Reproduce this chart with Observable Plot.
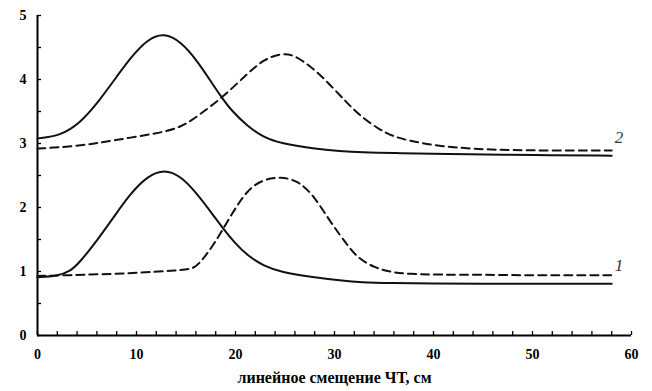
<!DOCTYPE html>
<html><head><meta charset="utf-8">
<script src="https://cdn.jsdelivr.net/npm/d3@7"></script>
<script src="https://cdn.jsdelivr.net/npm/@observablehq/plot@0.6"></script>
<style>
body{margin:0;background:#fff;}
svg{display:block;}
</style>
</head><body><div id="chart"></div>
<script>
const xTitle = "линейное смещение ЧТ, см";
const xTickLabels = [0, 10, 20, 30, 40, 50, 60];
const xMinorTicks = d3.range(0, 61, 2);
const yTickLabels = [0, 1, 2, 3, 4, 5];
const yMinorTicks = d3.range(0, 5.01, 0.5);

// curve 1 (lower pair)
const c1SolidX = [0, 2, 3.3, 4.3, 6, 7.7, 9.4, 11.1, 12.8, 14.5, 16.2, 17.8, 18.7, 19.9, 21.2, 22.8, 24.6, 27.9, 30.6, 32.7, 35.7, 40, 45, 50, 55, 58];
const c1SolidY = [0.91, 0.93, 1.0, 1.15, 1.48, 1.85, 2.22, 2.49, 2.6, 2.49, 2.2, 1.87, 1.68, 1.45, 1.25, 1.09, 0.99, 0.91, 0.86, 0.83, 0.82, 0.81, 0.81, 0.81, 0.81, 0.81];
const c1DashX = [0, 2.7, 9.4, 14.5, 15.5, 16.2, 17.8, 19.5, 21.2, 22.8, 24.6, 26.3, 27.9, 29.6, 31.3, 32.3, 34, 35.7, 37.5, 40.7, 45, 50, 55, 58];
const c1DashY = [0.93, 0.94, 0.97, 1.02, 1.04, 1.09, 1.41, 1.87, 2.28, 2.44, 2.48, 2.42, 2.19, 1.77, 1.41, 1.22, 1.06, 0.99, 0.96, 0.95, 0.95, 0.94, 0.94, 0.94];
// curve 2 (upper pair)
const c2SolidX = [0, 2.3, 4.3, 6, 7.7, 9.4, 11.1, 12.8, 14.5, 16.2, 17.8, 18.7, 19.5, 21.2, 22.8, 24.6, 27.9, 30.6, 32.7, 36, 44, 50, 58];
const c2SolidY = [3.08, 3.12, 3.32, 3.62, 3.98, 4.34, 4.63, 4.73, 4.59, 4.28, 3.90, 3.70, 3.53, 3.27, 3.10, 3.0, 2.92, 2.88, 2.86, 2.85, 2.83, 2.82, 2.81];
const c2DashX = [0, 4.3, 7.7, 12.2, 14.5, 16.2, 18.7, 21.2, 22.8, 24.6, 25.9, 27.9, 29.6, 31.3, 32.6, 34.6, 36, 37.3, 40.7, 45.8, 50.8, 58];
const c2DashY = [2.92, 2.96, 3.05, 3.16, 3.25, 3.43, 3.72, 4.09, 4.31, 4.41, 4.39, 4.17, 3.91, 3.63, 3.43, 3.21, 3.11, 3.05, 2.95, 2.9, 2.89, 2.89];

const curveLabels = ["1", "2"];
const curveLabelX = [58.3, 58.3];
const curveLabelY = [1.09, 3.09];

const toRows = (xs, ys, series) => xs.map((x, i) => ({x, y: ys[i], series}));
const solid = [...toRows(c1SolidX, c1SolidY, "1"), ...toRows(c2SolidX, c2SolidY, "2")];
const dashed = [...toRows(c1DashX, c1DashY, "1"), ...toRows(c2DashX, c2DashY, "2")];
const labels = curveLabels.map((t, i) => ({t, x: curveLabelX[i], y: curveLabelY[i]}));

const serif = "Liberation Serif, DejaVu Serif, serif";

const chart = Plot.plot({
  width: 652,
  height: 391,
  marginLeft: 37,
  marginRight: 21,
  marginTop: 15,
  marginBottom: 56,
  style: {fontSize: "14px", fontWeight: "bold", color: "#000", background: "#fff"},
  x: {domain: [0, 60]},
  y: {domain: [0, 5]},
  marks: [
    Plot.ruleX(xMinorTicks, {x: d => d, y1: 0, y2: 0, insetTop: -4, stroke: "#000", strokeWidth: 1.3}),
    Plot.ruleY(yMinorTicks, {y: d => d, x1: 0, x2: 0, insetRight: -4, stroke: "#000", strokeWidth: 1.3}),
    Plot.axisX({ticks: xTickLabels, tickSize: 0, tickPadding: 14, label: null, fontWeight: "bold", fontSize: 14, fontFamily: serif}),
    Plot.axisY({ticks: yTickLabels, tickSize: 0, tickPadding: 11, label: null, fontWeight: "bold", fontSize: 14, fontFamily: serif, tickFormat: d3.format("d")}),
    Plot.ruleX([0], {stroke: "#000", strokeWidth: 2}),
    Plot.ruleY([0], {stroke: "#000", strokeWidth: 2}),
    Plot.line(solid, {x: "x", y: "y", z: "series", stroke: "#111", strokeWidth: 2, curve: "basis"}),
    Plot.line(dashed, {x: "x", y: "y", z: "series", stroke: "#111", strokeWidth: 2, strokeDasharray: "8,5", curve: "basis"}),
    Plot.text(labels, {x: "x", y: "y", text: "t", fontStyle: "italic", fontWeight: "normal", fontSize: 17, fontFamily: serif, fill: "#333", textAnchor: "start"}),
    Plot.text([xTitle], {frameAnchor: "bottom", dy: 47, fontWeight: "bold", fontSize: 16, fontFamily: serif, lineAnchor: "bottom"})
  ]
});
document.getElementById("chart").appendChild(chart);
</script>
</body></html>
